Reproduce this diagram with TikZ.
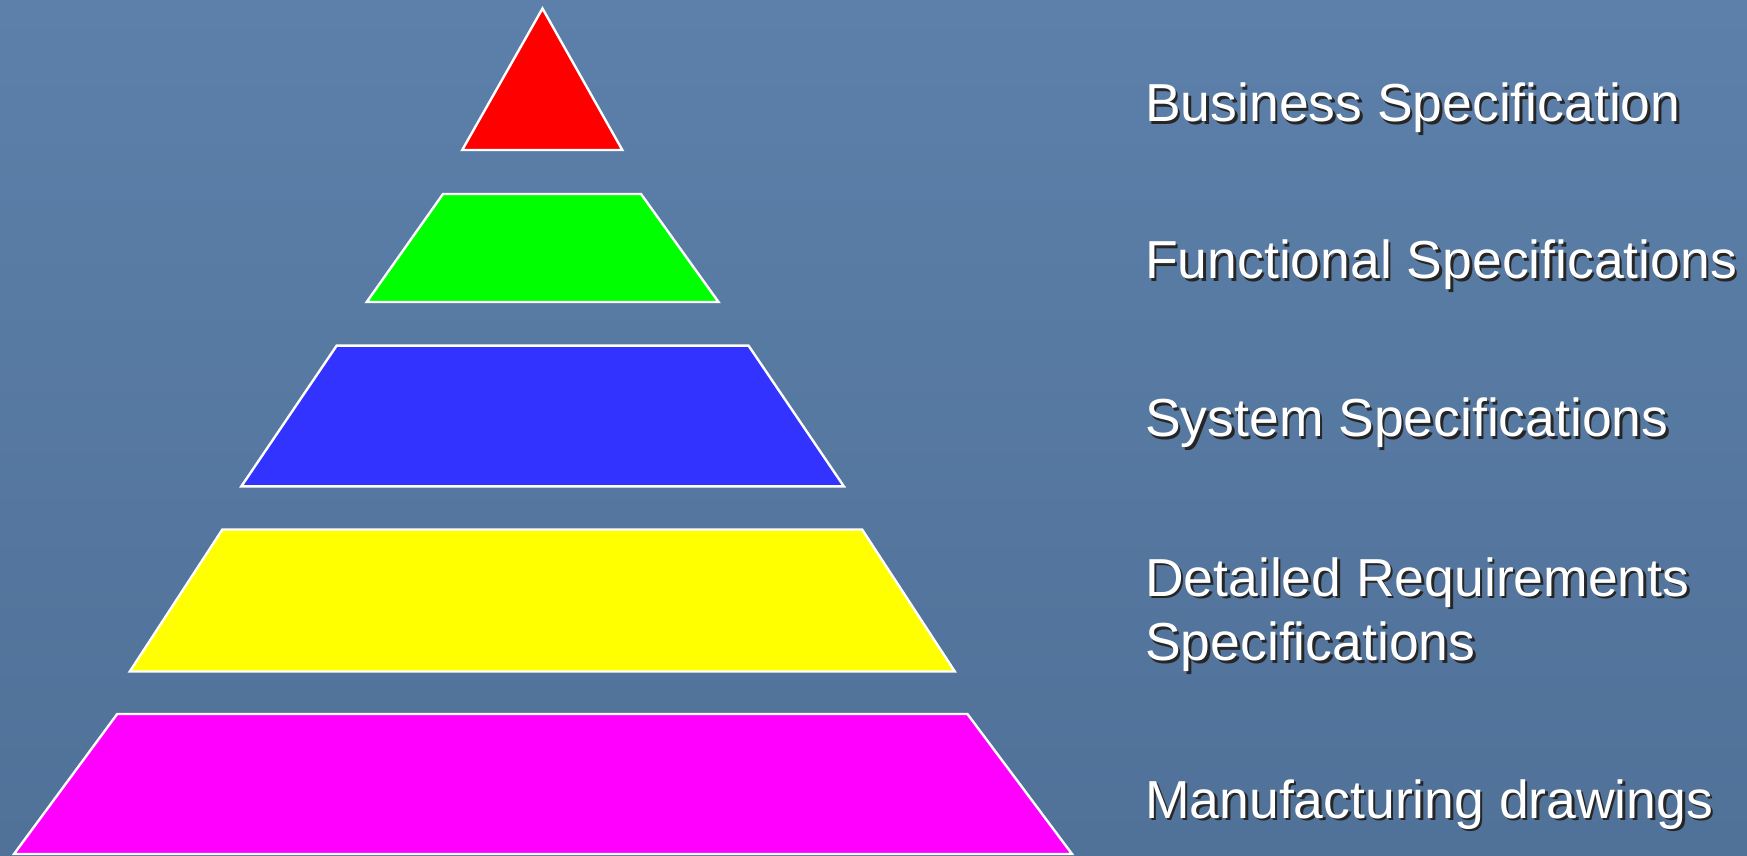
\documentclass[tikz,border=0pt]{standalone}
\usepackage{fontspec}
\setmainfont{Liberation Sans}
\begin{document}
\begin{tikzpicture}[x=1pt,y=-1pt,
  layer/.style={draw=white,line width=2.4pt,line join=miter},
  lbl/.style={anchor=base west,inner sep=0pt,text=white,font=\fontsize{53.5}{60}\selectfont},
  shd/.style={anchor=base west,inner sep=0pt,text=black!85,font=\fontsize{53.5}{60}\selectfont}]
\definecolor{bgtop}{RGB}{92,128,170}
\definecolor{bgbot}{RGB}{80,113,152}
\definecolor{lyr}{RGB}{255,0,0}
\definecolor{lyg}{RGB}{0,255,0}
\definecolor{lyb}{RGB}{51,51,255}
\definecolor{lyy}{RGB}{255,255,0}
\definecolor{lym}{RGB}{255,0,255}
\useasboundingbox (0,0) rectangle (1747,856);
\shade[top color=bgtop,bottom color=bgbot] (0,0) rectangle (1747,856);
% pyramid layers
\path[layer,fill=lyr] (542.5,8.5) -- (622.3,150) -- (462.2,150) -- cycle;
\path[layer,fill=lyg] (443,194) -- (641,194) -- (718.5,302) -- (366.7,302) -- cycle;
\path[layer,fill=lyb] (336.7,345.6) -- (748.5,345.6) -- (843.9,486.4) -- (241.3,486.4) -- cycle;
\path[layer,fill=lyy] (222.4,529.5) -- (862.1,529.5) -- (954.8,671.5) -- (129.8,671.5) -- cycle;
\path[layer,fill=lym] (117.2,714) -- (967.4,714) -- (1072,854) -- (14,854) -- cycle;
% labels with shadows
\foreach \n/\y/\t in {s1/121.7/Business Specification,
                      s2/278.6/Functional Specifications,
                      s3/436.8/System Specifications,
                      s4/596/Detailed Requirements,
                      s5/660.7/Specifications,
                      s6/818/Manufacturing drawings}{
  \node[shd] (\n sh) at (1147.5,\y+2.5) {\t};
  \node[lbl] (\n) at (1145,\y) {\t};
}
\end{tikzpicture}
\end{document}
